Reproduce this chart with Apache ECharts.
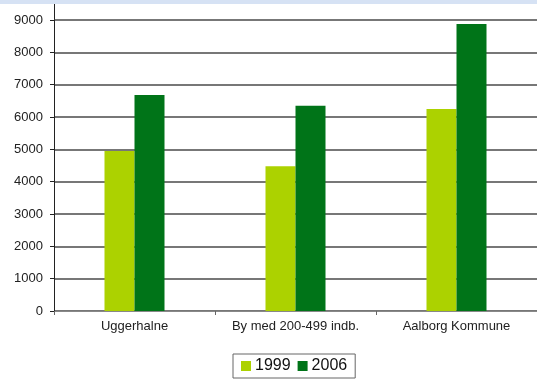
<!DOCTYPE html>
<html><head><meta charset="utf-8">
<script src="https://cdn.jsdelivr.net/npm/echarts@6/dist/echarts.min.js"></script>
<style>html,body{margin:0;padding:0;background:#fff}#c{width:537px;height:383px}</style>
</head><body><div id="c"></div>
<script>
const categories = ['Uggerhalne', 'By med 200-499 indb.', 'Aalborg Kommune'];
const seriesNames = ['1999', '2006'];
const values1999 = [4950, 4480, 6250];
const values2006 = [6680, 6350, 8880];
const colors = ['#acd200', '#007418'];

const chart = echarts.init(document.getElementById('c'));
chart.setOption({
  animation: false,
  textStyle: {fontFamily: 'Liberation Sans, Arial, sans-serif'},
  graphic: [
    {type: 'rect', shape: {x: 0, y: 0, width: 537, height: 4}, style: {fill: '#d6e2f4'}},
    {type: 'line', shape: {x1: 54.5, y1: 4, x2: 54.5, y2: 20}, style: {stroke: '#222', lineWidth: 1}}
  ],
  grid: {left: 54, right: -1, top: 20, bottom: 72, containLabel: false},
  legend: {
    data: seriesNames,
    left: 233, top: 354,
    itemWidth: 10, itemHeight: 10, itemGap: 7,
    borderColor: '#666', borderWidth: 1, padding: [4, 8, 4, 8],
    icon: 'rect',
    textStyle: {fontSize: 16, color: '#111', padding: [0, 0, 0, -1]}
  },
  xAxis: {
    type: 'category', data: categories,
    axisLine: {lineStyle: {color: '#888', width: 1}},
    axisTick: {show: true, interval: 0, length: 4, lineStyle: {color: '#666'}},
    axisLabel: {fontSize: 13, color: '#222', margin: 9, interval: 0, hideOverlap: false}
  },
  yAxis: {
    type: 'value', min: 0, max: 9000, interval: 1000,
    axisLine: {show: true, lineStyle: {color: '#222'}},
    axisTick: {show: true, length: 4, lineStyle: {color: '#222'}},
    axisLabel: {fontSize: 13, color: '#222', margin: 11, formatter: v => String(v)},
    splitLine: {lineStyle: {color: '#4a4a4a', width: 1.5}}
  },
  series: [
    {name: seriesNames[0], type: 'bar', data: values1999, barWidth: 30, barGap: '0%', itemStyle: {color: colors[0]}},
    {name: seriesNames[1], type: 'bar', data: values2006, barWidth: 30, barGap: '0%', itemStyle: {color: colors[1]}}
  ]
});
</script></body></html>
